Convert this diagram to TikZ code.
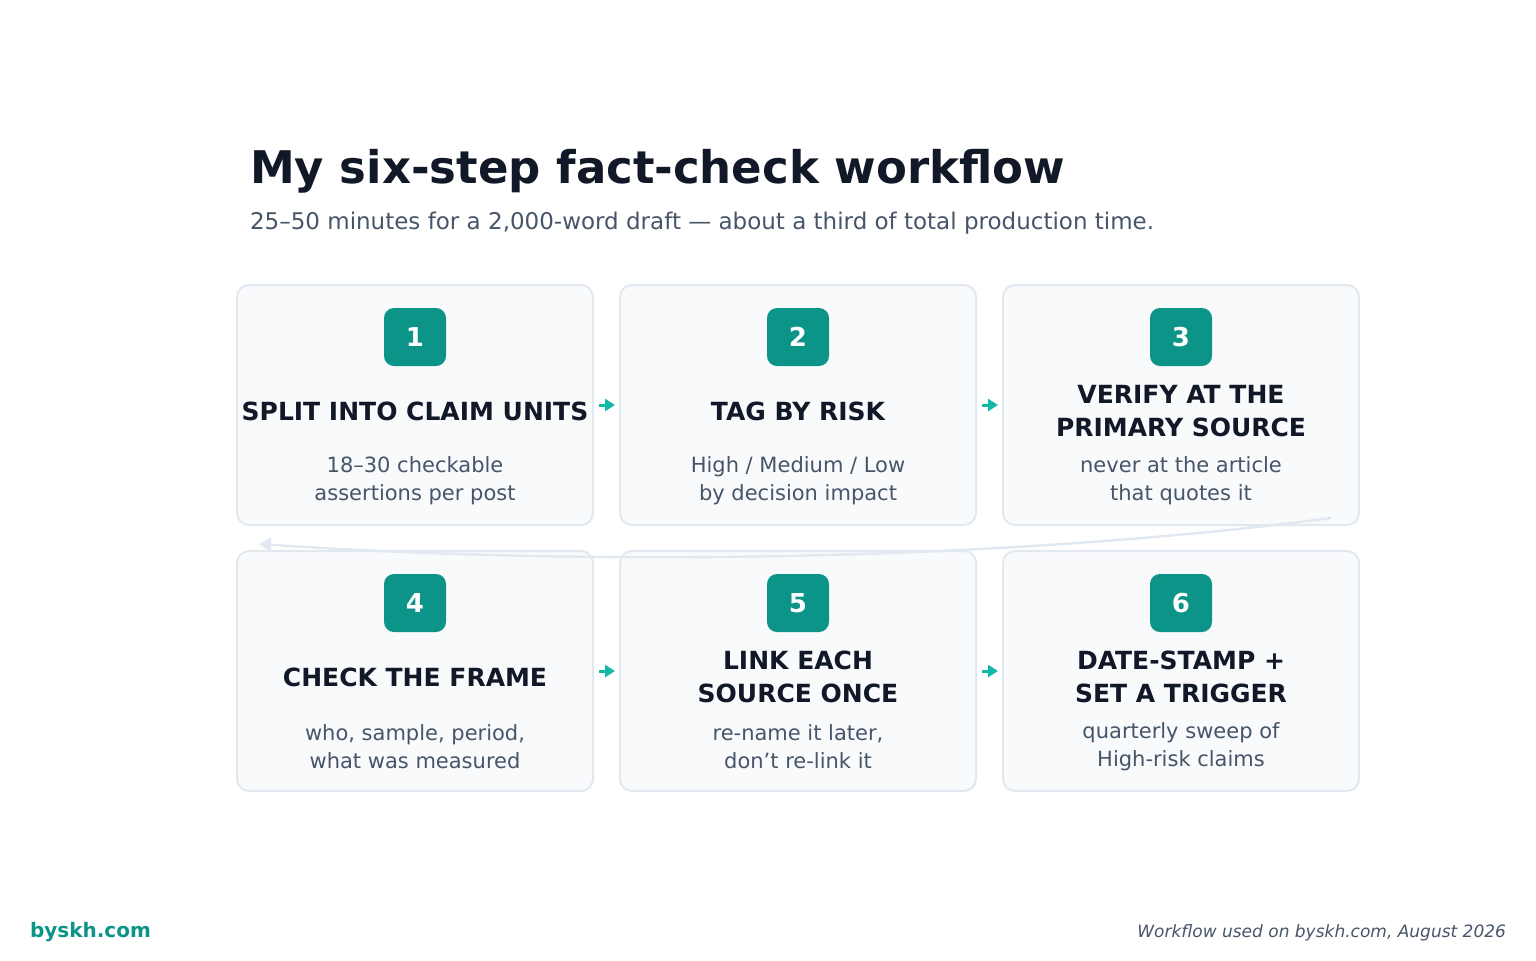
\documentclass[tikz,border=0pt]{standalone}
\usepackage{fontspec}
\setmainfont{DejaVu Sans}
\usetikzlibrary{arrows.meta}
\definecolor{ink}{HTML}{111827}
\definecolor{slate}{HTML}{475569}
\definecolor{teal}{HTML}{0D9488}
\definecolor{tealarrow}{HTML}{14B8A6}
\definecolor{cardfill}{HTML}{F8FAFC}
\definecolor{cardline}{HTML}{E2E8F0}
\tikzset{
  card/.style={draw=cardline, line width=1pt, fill=cardfill, rounded corners=6pt,
    minimum width=178pt, minimum height=120pt, inner sep=0pt},
  badge/.style={fill=teal, rounded corners=5pt, minimum width=31pt, minimum height=29pt,
    inner sep=0pt, text=white, font=\fontsize{13pt}{15pt}\selectfont\bfseries},
  steptitle/.style={align=center, text=ink, font=\fontsize{12.5pt}{16.5pt}\selectfont\bfseries},
  stepbody/.style={align=center, text=slate, font=\fontsize{10.5pt}{14pt}\selectfont},
  flow/.style={-{Triangle[length=5pt,width=6pt]}, draw=tealarrow, line width=1.5pt,
    shorten <=2.5pt, shorten >=2pt},
  back/.style={-{Triangle[length=6pt,width=7pt]}, draw=cardline, line width=1.2pt}
}
\begin{document}
\begin{tikzpicture}[x=0.5pt, y=-0.5pt]
  \useasboundingbox (0,0) rectangle (1536,960);

  % heading
  \node[anchor=base west, text=ink, font=\fontsize{22.5pt}{26pt}\selectfont\bfseries]
    (title) at (243,183) {My six-step fact-check workflow};
  \node[anchor=base west, text=slate, font=\fontsize{11.5pt}{14pt}\selectfont]
    (subtitle) at (243,229) {25–50 minutes for a 2,000-word draft — about a third of total production time.};

  % cards
  \node[card] (c1) at (415,405) {};
  \node[card] (c2) at (798,405) {};
  \node[card] (c3) at (1181,405) {};
  \node[card] (c4) at (415,671) {};
  \node[card] (c5) at (798,671) {};
  \node[card] (c6) at (1181,671) {};

  % badges
  \node[badge] (b1) at (415,337) {1};
  \node[badge] (b2) at (798,337) {2};
  \node[badge] (b3) at (1181,337) {3};
  \node[badge] (b4) at (415,603) {4};
  \node[badge] (b5) at (798,603) {5};
  \node[badge] (b6) at (1181,603) {6};

  % titles
  \node[steptitle] (t1) at (415,411) {SPLIT INTO CLAIM UNITS};
  \node[steptitle] (t2) at (798,411) {TAG BY RISK};
  \node[steptitle] (t3) at (1181,411) {VERIFY AT THE\\PRIMARY SOURCE};
  \node[steptitle] (t4) at (415,677) {CHECK THE FRAME};
  \node[steptitle] (t5) at (798,677) {LINK EACH\\SOURCE ONCE};
  \node[steptitle] (t6) at (1181,677) {DATE-STAMP +\\SET A TRIGGER};

  % bodies
  \node[stepbody] (d1) at (415,481) {18–30 checkable\\assertions per post};
  \node[stepbody] (d2) at (798,481) {High / Medium / Low\\by decision impact};
  \node[stepbody] (d3) at (1181,481) {never at the article\\that quotes it};
  \node[stepbody] (d4) at (415,747) {who, sample, period,\\what was measured};
  \node[stepbody] (d5) at (798,747) {re-name it later,\\don't re-link it};
  \node[stepbody] (d6) at (1181,747) {quarterly sweep of\\High-risk claims};

  % connectors
  \draw[flow] (c1.east) -- (c2.west);
  \draw[flow] (c2.east) -- (c3.west);
  \draw[flow] (c4.east) -- (c5.west);
  \draw[flow] (c5.east) -- (c6.west);

  \coordinate (wrapstart) at (1331,518);
  \coordinate (wrapend) at (259,544);
  \draw[back] (wrapstart) .. controls (1050,555) and (650,570) .. (wrapend);

  % footer
  \node[anchor=base west, text=teal, font=\fontsize{10pt}{12pt}\selectfont\bfseries]
    (brand) at (23,937) {byskh.com};
  \node[anchor=base east, text=slate, font=\fontsize{8.5pt}{10pt}\selectfont\itshape]
    (credit) at (1513,937) {Workflow used on byskh.com, August 2026};
\end{tikzpicture}
\end{document}
